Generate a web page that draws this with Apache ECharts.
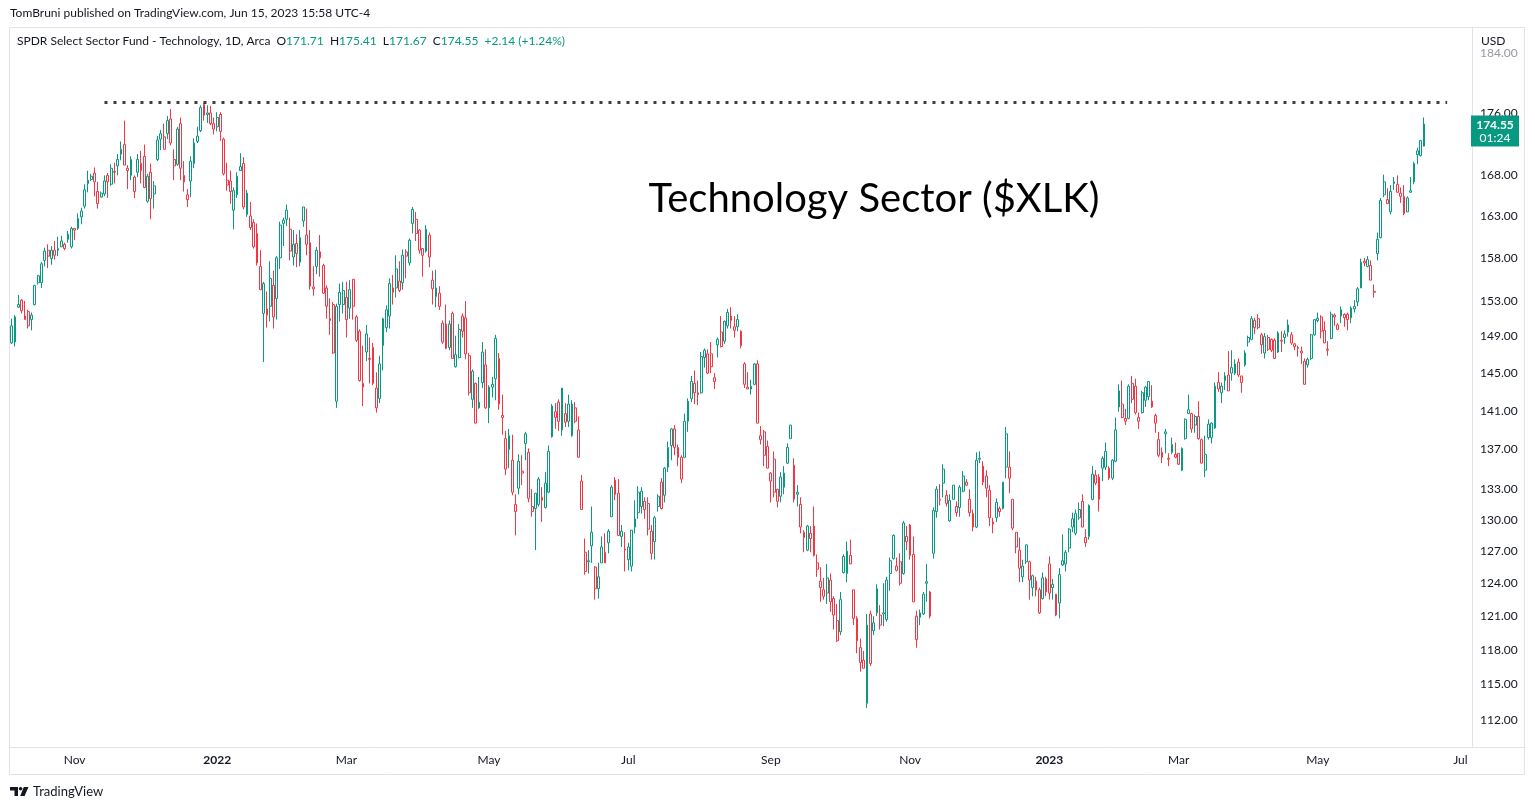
<!DOCTYPE html>
<html>
<head>
<meta charset="utf-8">
<title>Technology Sector ($XLK)</title>
<script src="https://cdn.jsdelivr.net/npm/echarts@6.0.0/dist/echarts.min.js"></script>
<style>
  html, body { margin: 0; padding: 0; background: #ffffff; }
  #chart { width: 1535px; height: 810px; }
</style>
</head>
<body>
<div id="chart"></div>
<script>
// daily candles: [open, close, low, high]
var candles = [
  // Oct 2021
  [148.3,150.2,148.2,151.0],[148.4,151.2,147.9,151.4],[152.6,152.3,152.2,153.7],[153.1,151.9,151.6,153.2],[151.3,150.9,150.9,153.0],
  [151.8,150.2,149.9,152.0],[150.9,151.4,149.7,151.7],[152.6,154.8,152.5,154.8],[155.1,155.9,154.9,156.0],[155.1,157.3,154.5,157.5],
  [157.7,158.8,157.0,159.2],[158.9,158.2,156.8,159.6],[157.9,158.9,157.2,159.4],[158.9,158.3,157.8,160.0],[159.1,158.9,158.2,160.5],
  [160.0,159.3,159.3,160.6],[159.6,159.1,158.9,159.8],[160.2,160.8,159.8,161.2],[159.3,161.5,159.1,161.7],
  // Nov 2021
  [161.5,161.3,160.1,161.5],[161.5,162.7,161.3,163.3],[162.9,163.6,162.0,164.0],[164.2,166.2,163.9,166.9],[167.4,167.0,165.9,168.6],
  [167.5,167.9,167.3,168.2],[168.3,167.2,165.4,169.0],[166.0,164.5,163.9,167.2],[165.8,165.3,165.3,166.0],[165.7,167.3,165.4,168.0],
  [168.0,167.2,165.2,168.3],[166.9,168.9,166.7,169.4],[168.5,168.4,167.0,169.6],[169.2,170.0,168.0,170.7],[170.7,171.3,169.9,172.3],
  [171.9,169.3,169.3,175.0],[168.6,168.9,166.3,169.3],[168.0,170.0,167.4,170.4],[167.8,166.0,165.2,168.0],[168.4,170.0,167.8,170.7],
  [169.5,168.6,167.0,171.1],
  // Dec 2021
  [170.4,166.5,166.4,171.9],[164.8,167.9,164.6,168.2],[168.4,165.1,162.6,169.5],[165.7,166.7,163.9,167.3],[170.0,172.5,169.8,173.0],
  [172.6,173.3,171.2,173.8],[172.9,171.3,171.3,174.6],[173.3,175.0,172.6,175.6],[175.2,172.1,171.8,176.5],[170.0,169.2,167.4,171.3],
  [169.4,173.9,169.2,174.2],[174.6,168.9,167.4,175.4],[167.2,168.0,166.0,169.8],[165.0,165.6,164.1,166.3],[167.3,169.8,165.3,170.4],
  [169.5,172.1,168.9,172.7],[172.3,173.0,172.1,174.2],[173.7,176.7,173.5,177.0],[177.1,175.7,175.0,177.3],[176.0,175.8,174.7,177.0],
  [176.0,174.6,174.4,176.9],[174.6,173.9,173.2,175.4],
  // Jan 2022
  [174.2,175.4,173.6,176.1],[175.8,173.6,172.4,176.1],[172.6,168.2,168.0,172.8],[166.8,167.4,166.1,169.6],[167.3,166.0,164.5,168.6],
  [163.7,166.1,161.4,166.5],[165.6,167.9,165.2,168.4],[169.1,168.6,168.6,170.8],[169.5,164.1,163.8,170.3],[163.2,165.8,162.9,166.2],
  [163.0,161.6,161.3,164.7],[162.2,159.3,159.1,162.6],[160.9,157.4,157.1,162.1],[157.0,154.3,154.3,158.9],[151.6,155.0,146.2,155.2],
  [152.1,151.4,150.0,154.1],[152.4,155.6,150.7,157.6],[154.8,151.2,149.9,156.5],[153.3,158.0,150.9,158.2],[158.0,161.9,156.7,162.3],
  // Feb 2022
  [162.1,162.5,159.4,162.8],[162.6,163.7,161.8,164.4],[161.4,158.8,157.7,162.8],[158.1,159.6,157.1,161.3],[159.7,158.5,156.9,160.8],
  [157.5,160.4,157.0,161.3],[162.4,164.1,161.7,164.1],[160.7,159.6,158.3,163.9],[159.8,154.7,154.3,161.3],[154.4,154.6,153.6,157.0],
  [157.0,158.9,156.1,159.3],[158.0,158.7,155.8,160.7],[157.1,153.9,153.8,157.3],[154.5,152.4,151.0,154.8],[151.0,150.8,149.2,153.3],
  [152.6,147.2,147.1,152.9],[142.0,152.4,141.3,152.7],[152.6,154.0,150.7,155.0],[152.6,154.2,151.6,155.2],
  // Mar 2022
  [153.4,150.9,148.9,155.2],[152.2,154.3,151.0,155.4],[155.5,152.4,150.9,155.5],[151.2,148.6,148.4,151.4],[149.6,144.2,144.1,149.8],
  [143.9,143.5,141.5,148.0],[147.3,149.3,146.3,150.3],[146.6,146.5,143.9,148.9],[147.8,143.9,143.7,148.3],[143.4,141.3,140.8,145.1],
  [142.3,146.0,141.8,146.9],[148.0,151.0,145.3,151.1],[150.0,152.0,149.5,152.5],[151.3,155.0,149.9,155.6],[154.0,154.5,152.6,156.0],
  [154.5,156.7,153.4,158.3],[155.3,154.2,154.0,157.6],[155.1,158.3,154.3,159.0],[158.7,158.2,155.6,159.0],[157.4,160.1,157.1,160.3],
  [162.1,163.8,160.9,164.1],[162.6,160.9,160.0,163.5],[161.3,158.9,158.5,161.4],
  // Apr 2022
  [159.1,158.3,155.8,159.1],[158.8,161.4,158.6,161.9],[160.7,158.1,156.9,161.0],[155.4,154.4,152.6,156.5],[153.5,154.5,152.3,156.6],
  [153.9,152.4,152.0,154.7],[150.5,148.4,148.2,150.8],[150.4,147.7,147.6,152.6],[147.8,150.4,147.5,150.8],[151.6,146.6,146.6,151.8],
  [145.7,147.0,145.6,149.1],[146.7,149.8,146.6,150.4],[151.3,149.6,148.9,151.6],[151.1,147.1,146.5,153.0],[146.9,142.9,142.6,147.2],
  [142.2,145.2,141.3,145.4],[143.9,139.7,139.7,144.0],[141.3,141.9,141.2,144.6],[144.0,147.3,143.4,148.4],[145.9,141.3,141.2,147.6],
  // May 2022
  [141.3,143.5,139.7,143.7],[143.5,143.8,142.4,144.6],[144.4,148.8,142.1,149.2],[146.6,141.7,141.1,147.2],[140.5,140.3,138.5,142.7],
  [138.1,135.0,134.4,138.9],[138.4,137.0,135.1,139.1],[135.9,132.7,132.4,138.5],[130.8,131.5,128.5,132.5],[133.1,135.8,132.5,136.5],
  [134.8,134.6,133.4,136.4],[137.6,138.6,135.9,138.8],[136.7,132.1,131.7,137.1],[131.3,130.8,130.3,133.0],[132.6,131.1,127.1,132.6],
  [131.5,134.0,131.3,134.2],[132.2,131.9,129.8,133.2],[131.2,133.6,131.1,134.7],[132.7,136.8,132.6,137.4],[138.3,141.5,138.2,141.7],
  [140.9,140.3,139.1,141.8],
  // Jun 2022
  [141.9,139.9,138.9,142.2],[139.0,143.4,138.4,143.4],[140.7,139.8,139.3,141.8],[141.7,139.9,139.3,142.7],[138.4,141.7,138.3,142.1],
  [141.3,139.9,139.7,141.9],[139.0,136.2,136.2,140.4],[133.8,131.0,131.0,134.4],[126.9,125.1,124.8,128.2],[126.1,126.0,124.9,127.1],
  [127.5,128.8,125.9,131.3],[125.5,123.5,122.5,125.6],[123.5,124.6,122.6,125.9],[125.9,127.4,125.9,128.4],[125.9,126.9,125.9,128.7],
  [127.8,128.9,126.8,129.1],[130.3,133.2,130.3,133.4],[133.9,132.5,131.9,134.2],[132.6,128.5,128.5,134.0],[128.4,128.9,127.4,129.5],
  [127.2,127.1,125.1,128.8],
  // Jul 2022
  [126.2,127.4,125.2,127.8],[125.6,129.0,125.1,129.0],[129.3,130.1,128.7,131.9],[130.7,132.7,130.1,133.3],[131.3,132.8,130.6,133.2],
  [131.8,131.0,130.1,132.2],[131.6,129.1,128.5,132.2],[126.8,128.9,126.2,129.5],[127.9,130.2,126.2,130.4],[131.3,132.3,130.8,132.5],
  [133.7,131.1,131.0,134.1],[132.4,135.1,131.7,135.2],[135.2,137.2,134.7,137.8],[137.4,139.1,135.9,139.2],[139.1,137.2,136.4,139.5],
  [137.2,136.2,135.3,137.5],[136.2,134.0,133.6,136.4],[136.2,139.9,136.1,140.7],[139.9,142.0,138.8,142.3],[142.3,144.1,141.9,144.7],
  // Aug 2022
  [142.9,143.9,141.7,145.3],[142.7,142.9,141.6,144.2],[142.9,146.8,142.8,147.3],[146.7,147.5,145.6,147.7],[145.0,147.1,144.9,147.6],
  [147.1,145.7,145.0,148.4],[144.5,144.1,143.3,145.0],[148.1,148.7,146.7,148.9],[149.5,147.9,147.8,151.3],[148.5,150.7,148.2,150.8],
  [150.2,151.7,149.9,152.1],[150.8,151.3,149.9,152.3],[149.7,150.1,148.9,151.3],[150.1,150.9,149.6,151.5],[149.6,148.0,147.7,149.7],
  [146.0,143.8,143.4,146.2],[143.5,143.3,143.3,145.1],[143.3,143.6,142.7,144.3],[143.8,146.0,143.7,146.1],[146.0,139.7,139.7,146.4],
  [138.4,138.0,137.5,139.4],[138.8,136.4,135.3,139.0],[137.3,135.1,135.1,137.9],
  // Sep 2022
  [133.8,134.6,131.7,134.7],[136.0,132.7,132.2,136.8],[133.0,131.8,131.2,133.0],[132.3,134.2,131.7,134.7],[133.2,134.6,132.5,135.3],
  [135.6,137.2,135.5,137.6],[138.1,139.5,138.1,139.5],[135.4,132.0,131.7,136.1],[132.7,132.5,131.3,133.4],[131.5,129.3,128.7,132.2],
  [128.3,128.8,126.9,129.0],[127.1,129.4,127.0,129.5],[128.2,128.7,126.9,129.4],[129.4,126.6,126.5,131.3],[125.9,125.3,124.6,126.7],
  [124.2,123.6,122.3,125.5],[123.4,122.8,122.5,124.5],[123.1,124.5,122.1,125.8],[122.3,124.3,121.4,124.9],[122.6,121.1,119.8,122.8],
  [120.6,118.8,118.7,122.1],
  // Oct 2022
  [119.6,122.5,119.3,123.2],[125.0,126.5,124.9,126.7],[124.9,127.0,124.1,127.9],[126.6,125.8,125.8,128.1],[123.4,120.8,120.2,123.4],
  [120.8,118.8,117.7,121.0],[118.2,116.9,116.1,119.0],[117.1,116.4,116.4,117.9],[113.4,120.2,113.0,121.2],[121.2,116.8,116.6,121.5],
  [119.7,120.4,119.3,121.0],[123.5,121.3,121.0,123.9],[120.2,121.1,119.8,122.0],[121.3,121.2,120.1,124.0],[120.7,124.3,120.5,124.6],
  [124.9,126.1,123.3,126.4],[126.3,128.5,126.2,128.6],[125.2,125.6,125.1,126.4],[126.0,124.0,123.8,126.8],[124.9,129.7,124.8,129.9],
  [128.4,127.9,127.1,129.4],
  // Nov 2022
  [129.5,126.6,126.2,129.6],[126.7,122.3,122.3,128.4],[121.0,118.9,118.2,121.5],[121.3,120.9,120.2,121.6],[121.2,123.0,121.1,123.2],
  [124.0,124.15,122.3,125.8],[123.2,121.0,120.8,123.3],[126.8,130.9,126.3,131.2],[130.8,133.0,130.2,133.3],[131.9,132.0,131.4,133.5],
  [135.0,133.6,132.2,135.5],[132.4,131.6,131.3,132.9],[129.9,131.9,129.8,132.5],[133.4,132.0,132.0,133.4],[131.3,130.7,130.3,131.8],
  [131.2,133.2,130.3,133.4],[132.8,134.3,132.7,134.8],[133.4,133.7,133.3,134.0],[132.0,130.7,130.3,133.0],[130.6,129.3,128.9,131.0],
  [129.3,135.9,129.2,136.7],
  // Dec 2022
  [136.0,136.1,135.6,136.8],[133.7,135.3,133.4,135.8],[134.3,133.1,132.2,134.9],[132.9,130.2,129.4,133.4],[129.8,129.6,128.7,130.2],
  [130.2,131.7,129.8,132.1],[131.1,130.8,130.3,131.3],[131.1,133.7,131.0,133.7],[138.6,135.2,134.1,139.3],[135.2,134.1,132.6,136.8],
  [132.0,129.2,129.0,132.0],[128.8,127.4,126.8,128.8],[127.1,125.4,124.1,128.3],[124.6,125.6,124.1,126.2],[126.0,127.6,125.8,127.6],
  [126.0,124.3,122.5,126.1],[123.6,124.7,122.8,124.8],[124.2,123.4,122.8,124.6],[123.4,121.3,121.2,123.6],[122.6,124.5,122.5,125.0],
  [123.2,124.4,122.8,124.6],
  // Jan 2023
  [125.8,123.1,122.5,126.5],[123.9,123.6,122.5,124.4],[123.0,121.1,121.0,123.0],[122.2,124.8,120.8,125.4],[125.7,126.1,125.6,128.6],
  [125.8,126.9,125.1,127.1],[127.3,129.1,126.9,129.2],[129.3,130.1,128.8,130.7],[128.7,130.6,128.5,131.0],[130.2,131.0,130.0,131.7],
  [131.8,129.3,129.3,132.5],[128.3,127.8,127.4,129.1],[128.4,131.4,128.1,131.5],[132.0,134.5,131.9,135.3],[133.6,134.4,133.4,134.9],
  [134.2,132.0,130.8,134.5],[135.1,136.1,133.8,136.3],[135.2,136.8,134.9,137.7],[135.1,134.1,133.9,135.3],[134.1,135.9,133.9,136.0],
  // Feb 2023
  [135.8,139.0,135.7,140.3],[141.4,143.1,140.9,143.8],[140.3,141.7,140.2,144.2],[140.2,139.9,139.5,141.2],[140.2,143.6,140.1,143.8],
  [143.9,142.2,141.8,144.7],[143.6,140.8,140.6,144.4],[139.9,140.3,139.1,140.8],[140.8,142.9,140.7,143.1],[142.1,143.5,141.4,143.6],
  [142.5,144.1,142.1,144.1],[142.0,141.4,141.3,143.7],[140.5,139.7,138.7,140.7],[138.0,136.4,136.2,138.8],[136.7,136.2,135.6,137.2],
  [138.8,138.6,136.6,139.1],[136.1,136.0,135.3,136.6],[137.5,136.7,136.5,138.2],[136.2,136.5,136.1,137.7],
  // Mar 2023
  [136.6,135.5,135.4,136.6],[134.9,137.1,134.8,137.2],[138.1,140.1,138.0,140.2],[141.1,140.7,140.7,142.7],[140.7,139.1,138.7,140.8],
  [139.5,140.4,138.7,140.6],[140.4,138.1,138.0,142.0],[138.0,135.6,135.6,138.1],[134.9,136.5,134.2,138.4],[138.2,139.6,138.0,140.1],
  [138.2,139.7,137.6,139.8],[139.2,143.6,139.1,144.0],[144.0,143.3,143.0,145.1],[142.9,143.6,141.8,144.0],[144.2,144.7,143.2,145.1],
  [144.8,143.1,143.1,147.4],[145.0,145.6,144.2,147.5],[145.0,146.0,144.8,146.5],[146.2,144.8,144.6,146.6],[144.7,144.0,142.9,144.7],
  [145.9,147.2,145.7,147.5],[148.4,148.9,147.9,149.1],[148.7,151.0,148.6,151.3],
  // Apr 2023
  [150.0,150.8,149.3,151.1],[151.0,150.0,149.8,151.5],[149.2,148.1,147.1,149.4],[147.2,149.0,146.6,149.4],[148.9,147.6,147.4,149.2],
  [148.7,147.5,147.3,148.8],[148.6,146.6,146.6,148.8],[147.3,149.4,147.2,149.6],[148.6,148.5,147.3,149.6],[148.9,149.3,148.2,149.7],
  [150.3,149.5,149.0,150.9],[148.3,149.2,148.1,149.5],[147.9,148.2,147.5,148.3],[147.8,147.7,146.8,148.0],[147.4,147.2,146.0,147.9],
  [146.3,143.8,143.8,146.6],[146.5,145.9,145.6,146.7],[146.6,149.2,146.4,149.3],[149.2,150.9,149.1,150.9],
  // May 2023
  [150.8,151.05,150.6,151.7],[151.2,149.6,148.8,151.4],[149.7,148.3,148.3,150.7],[147.6,147.5,146.9,148.5],[148.8,151.5,148.7,151.8],
  [151.2,151.4,150.2,151.6],[150.3,149.8,149.8,150.5],[151.3,152.0,150.5,152.4],[151.5,151.1,150.1,151.6],[151.5,150.9,149.7,151.7],
  [151.1,152.2,150.5,152.4],[152.1,152.4,151.7,153.1],[152.9,154.4,152.4,154.6],[154.5,157.5,154.5,157.9],[157.6,157.4,157.0,158.0],
  [157.0,157.8,156.9,158.2],[157.1,155.4,155.4,157.7],[154.0,154.1,153.4,154.9],[158.5,160.2,157.7,161.0],[160.4,164.9,160.3,165.2],
  [167.2,165.6,165.3,168.1],[165.0,164.5,164.5,166.4],
  // Jun 2023
  [163.5,166.0,163.2,166.8],[167.2,167.0,166.2,167.8],[166.9,165.9,165.9,168.0],[165.4,165.8,164.6,166.5],[165.4,163.3,163.1,166.8],
  [163.5,165.2,163.5,165.4],[166.1,165.9,165.9,167.8],[167.2,169.5,166.9,169.7],[171.1,170.6,169.4,171.5],[170.5,172.41,170.4,172.5],
  [171.71,174.55,171.67,175.41]
];

// price scale tick labels (log scale)
var priceTicks = [112, 115, 118, 121, 124, 127, 130, 133, 137, 141, 145, 149, 153, 158, 163, 168, 176, 184];
var priceMin = 109.77;
var priceMax = 187.63;

// dotted line at the old high
var athLevel = 177.4;
var athFrom = 28;
var athTo = 433;

var monthNames = ['Jan', 'Feb', 'Mar', 'Apr', 'May', 'Jun', 'Jul', 'Aug', 'Sep', 'Oct', 'Nov', 'Dec'];
var holidays = [
  '2021-11-25', '2021-12-24', '2022-01-17', '2022-02-21', '2022-04-15', '2022-05-30', '2022-06-20',
  '2022-07-04', '2022-09-05', '2022-11-24', '2022-12-26', '2023-01-02', '2023-01-16', '2023-02-20',
  '2023-04-07', '2023-05-29', '2023-06-19', '2023-07-04'
];

var up = '#089981';
var down = '#f23645';
var ink = '#131722';
var frame = '#e0e3eb';
var font = 'Lato, "Open Sans", sans-serif';

// NYSE sessions, data range plus a little empty space on the right
function tradingDays(from, to) {
  var out = [];
  var d = new Date(from + 'T00:00:00Z');
  var end = new Date(to + 'T00:00:00Z');
  while (d <= end) {
    var s = d.toISOString().slice(0, 10);
    var wd = d.getUTCDay();
    if (wd !== 0 && wd !== 6 && holidays.indexOf(s) < 0) out.push(s);
    d.setUTCDate(d.getUTCDate() + 1);
  }
  return out;
}
var dates = tradingDays('2021-10-05', '2023-07-07');

// first session of every other month gets a label
var labelAt = {};
dates.forEach(function (s, i) {
  if (i === 0) return;
  var m = +s.slice(5, 7);
  if (m !== +dates[i - 1].slice(5, 7) && m % 2 === 1) labelAt[i] = true;
});

// hollow when close > open, colour from close vs previous close
var seriesData = candles.map(function (k, i) {
  var prev = i > 0 ? candles[i - 1][1] : k[0];
  var col = k[1] >= prev ? up : down;
  return {
    value: [Math.log(k[0]), Math.log(k[1]), Math.log(k[2]), Math.log(k[3])],
    itemStyle: { color: '#ffffff', borderColor: col, color0: col, borderColor0: col }
  };
});

var last = candles[candles.length - 1];
var prevClose = candles[candles.length - 2][1];
var chg = last[1] - prevClose;
var chgPct = chg / prevClose * 100;

var chart = echarts.init(document.getElementById('chart'));

var option = {
  animation: false,
  backgroundColor: '#ffffff',
  textStyle: { fontFamily: font },
  grid: { left: 10, right: 63, top: 27, bottom: 63 },
  xAxis: {
    type: 'category',
    data: dates,
    boundaryGap: true,
    axisLine: { lineStyle: { color: frame } },
    axisTick: { show: false },
    splitLine: { show: false },
    axisLabel: {
      interval: function (idx) { return !!labelAt[idx]; },
      formatter: function (v) {
        var m = +v.slice(5, 7);
        return m === 1 ? '{yr|' + v.slice(0, 4) + '}' : monthNames[m - 1];
      },
      color: ink,
      fontSize: 12,
      fontFamily: font,
      margin: 7,
      rich: { yr: { fontWeight: 'bold', fontSize: 12, color: ink, fontFamily: font } }
    }
  },
  yAxis: {
    type: 'value',
    position: 'right',
    min: Math.log(priceMin),
    max: Math.log(priceMax),
    axisLine: { show: true, lineStyle: { color: frame } },
    axisTick: { show: false },
    splitLine: { show: false },
    axisLabel: {
      customValues: priceTicks.map(function (p) { return Math.log(p); }),
      formatter: function (v) {
        var s = Math.exp(v).toFixed(2);
        return Math.exp(v) > 180 ? '{f|' + s + '}' : s;
      },
      color: ink,
      fontSize: 12,
      fontFamily: font,
      margin: 8,
      rich: { f: { color: '#9598a1', fontSize: 12, fontFamily: font } }
    }
  },
  series: [
    {
      type: 'candlestick',
      data: seriesData,
      barWidth: 2.3,
      itemStyle: { borderWidth: 1 },
      markLine: {
        silent: true,
        symbol: ['none', 'none'],
        label: { show: false },
        lineStyle: { color: '#3d3d3d', width: 3, type: [3, 6] },
        data: [[
          { coord: [dates[athFrom], Math.log(athLevel)] },
          { coord: [dates[athTo], Math.log(athLevel)] }
        ]]
      }
    }
  ],
  graphic: [
    {
      id: 'byline', type: 'text', left: 10, top: 7,
      style: { text: 'TomBruni published on TradingView.com, Jun 15, 2023 15:58 UTC-4', fill: ink, font: '12px ' + font }
    },
    {
      id: 'frame', type: 'rect', shape: { x: 9.5, y: 27.5, width: 1515, height: 747 },
      style: { fill: 'none', stroke: frame, lineWidth: 1 }, silent: true
    },
    {
      id: 'axisfoot', type: 'line', shape: { x1: 1472, y1: 747.5, x2: 1524.5, y2: 747.5 },
      style: { stroke: frame, lineWidth: 1 }
    },
    {
      id: 'legend', type: 'text', left: 17, top: 35,
      style: {
        text: 'SPDR Select Sector Fund - Technology, 1D, Arca  O{v|' + last[0].toFixed(2) + '}  H{v|' + last[3].toFixed(2) +
          '}  L{v|' + last[2].toFixed(2) + '}  C{v|' + last[1].toFixed(2) + '}  {v|+' + chg.toFixed(2) + ' (+' + chgPct.toFixed(2) + '%)}',
        fill: ink,
        font: '12px ' + font,
        rich: { v: { fill: up, font: '12px ' + font } }
      }
    },
    {
      id: 'title', type: 'text', x: 874, y: 199,
      style: { text: 'Technology Sector ($XLK)', fill: '#000000', font: '40px ' + font, align: 'center', verticalAlign: 'middle' }
    },
    {
      id: 'usdbg', type: 'rect', shape: { x: 1473, y: 28, width: 51, height: 20.5 },
      style: { fill: '#ffffff' }, z: 100
    },
    {
      id: 'usd', type: 'text', x: 1481, y: 41, z: 101,
      style: { text: 'USD', fill: ink, font: '12px ' + font, verticalAlign: 'middle' }
    },
    // TradingView mark at the bottom
    { id: 'tv1', type: 'polygon', shape: { points: [[10, 787], [18, 787], [18, 796], [14.5, 796], [14.5, 790.5], [10, 790.5]] }, style: { fill: ink } },
    { id: 'tv2', type: 'circle', shape: { cx: 20.6, cy: 788.8, r: 1.8 }, style: { fill: ink } },
    { id: 'tv3', type: 'polygon', shape: { points: [[23.8, 787], [28.5, 787], [24.6, 796], [20.2, 796]] }, style: { fill: ink } },
    {
      id: 'tvtext', type: 'text', x: 33, y: 792,
      style: { text: 'TradingView', fill: ink, font: '13px ' + font, verticalAlign: 'middle' }
    }
  ]
};

chart.setOption(option);

// last price tag on the price scale
var lastY = chart.convertToPixel({ yAxisIndex: 0 }, Math.log(last[1]));
chart.setOption({
  graphic: [
    {
      id: 'tagbox', type: 'rect', shape: { x: 1471, y: lastY - 8.5, width: 48, height: 31 },
      style: { fill: up }, z: 100
    },
    {
      id: 'tagprice', type: 'text', x: 1495, y: lastY + 1, z: 101,
      style: { text: last[1].toFixed(2), fill: '#ffffff', font: 'bold 12px ' + font, align: 'center', verticalAlign: 'middle' }
    },
    {
      id: 'tagtime', type: 'text', x: 1495, y: lastY + 14.5, z: 101,
      style: { text: '01:24', fill: '#ffffff', font: '12px ' + font, align: 'center', verticalAlign: 'middle' }
    }
  ]
});
</script>
</body>
</html>
